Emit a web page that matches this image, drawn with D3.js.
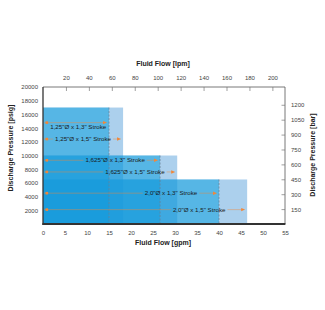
<!DOCTYPE html>
<html><head><meta charset="utf-8">
<script src="https://cdn.jsdelivr.net/npm/d3@7"></script>
<style>body{margin:0;background:#fff}svg{display:block;font-family:"Liberation Sans",Arial,sans-serif}</style>
</head><body><svg id="c" width="325" height="310"></svg>
<script>
// ---- data ----
const bores = ['1,25"Ø', '1,625"Ø', '2,0"Ø'];
const maxPressure = [17000, 10000, 6500];          // psig, top of each bore block
const flowStroke13 = [15, 26.6, 40];               // gpm, 1,3" stroke
const flowStroke15 = [18.2, 30.5, 46.4];           // gpm, 1,5" stroke
const linePressure13 = [14800, 9300, 4500];        // psig, arrow line level
const linePressure15 = [12400, 7600, 2100];
const strokes = ['1,3"', '1,5"'];
const gpmTicks = [0, 5, 10, 15, 20, 25, 30, 35, 40, 45, 50, 55];
const lpmTicks = [20, 40, 60, 80, 100, 120, 140, 160, 180, 200];
const psiTicks = [2000, 4000, 6000, 8000, 10000, 12000, 14000, 16000, 18000, 20000];
const barTicks = [150, 300, 450, 600, 750, 900, 1050, 1200];

// ---- layout ----
const L = 43, R = 285, T = 87, B = 224;
const labelCenterGpm = [[8.0, 9.1], [16.4, 20.9], [29.1, 35.5]];
const labelDy = [[4, 0], [0, 0], [0, 0]];

const svg = d3.select('#c');
const x = d3.scaleLinear().domain([0, 55]).range([L, R]);
const xTop = d3.scaleLinear().domain([0, 211]).range([L, R]);
const y = d3.scaleLinear().domain([0, 20000]).range([B, T]);
const yBar = d3.scaleLinear().domain([0, 20000 / 14.5038]).range([B, T]);
const fmt = d3.format('d');

// blocks
const blocks = bores.map((b, i) => ({b, p: maxPressure[i], f13: flowStroke13[i], f15: flowStroke15[i]}));
const gBlocks = svg.append('g');
blocks.forEach(d => {
  gBlocks.append('rect').attr('x', x(0)).attr('y', y(d.p)).attr('width', x(d.f15) - x(0)).attr('height', y(0) - y(d.p))
    .attr('fill', 'rgb(70,150,215)').attr('fill-opacity', 0.45);
  gBlocks.append('rect').attr('x', x(0)).attr('y', y(d.p)).attr('width', x(d.f13) - x(0)).attr('height', y(0) - y(d.p))
    .attr('fill', 'rgb(0,155,222)').attr('fill-opacity', 0.5);
});
// dashed lines at 1,3" stroke flow
blocks.forEach(d => {
  svg.append('line').attr('x1', x(d.f13)).attr('x2', x(d.f13)).attr('y1', y(d.p)).attr('y2', y(0))
    .attr('stroke', '#6d7f90').attr('stroke-width', 0.7).attr('stroke-dasharray', '2,1.5');
});

// arrows and labels
const orange = '#f0873a';
bores.forEach((b, i) => {
  const ends = [flowStroke13[i], flowStroke15[i]];
  const lev = [linePressure13[i], linePressure15[i]];
  [0, 1].forEach(k => {
    const yy = y(lev[k]);
    const xe = x(ends[k]) - 2;
    const xs = x(0) + 1;
    const txt = svg.append('text').attr('x', x(labelCenterGpm[i][k])).attr('y', yy + labelDy[i][k])
      .attr('dy', '0.35em').attr('text-anchor', 'middle').attr('font-size', 6.2).attr('fill', '#1a1a1a')
      .text(`${b} x ${strokes[k]} Stroke`);
    const w = txt.node().getComputedTextLength();
    const cx = x(labelCenterGpm[i][k]);
    const segs = labelDy[i][k] === 0 ? [[xs, cx - w / 2 - 2], [cx + w / 2 + 2, xe - 3]] : [[xs, xe - 3]];
    segs.forEach(s => {
      if (s[1] > s[0]) svg.insert('line', 'text').attr('x1', s[0]).attr('x2', s[1]).attr('y1', yy).attr('y2', yy)
        .attr('stroke', orange).attr('stroke-width', 0.8).attr('stroke-opacity', 0.55);
    });
    svg.append('rect').attr('x', xs + 1.5).attr('y', yy - 1.3).attr('width', 2.6).attr('height', 2.6).attr('fill', orange);
    svg.append('path').attr('d', `M${xe},${yy}L${xe - 4},${yy - 1.7}L${xe - 4},${yy + 1.7}Z`).attr('fill', orange);
  });
});

// frame
svg.append('line').attr('x1', L).attr('x2', R).attr('y1', T).attr('y2', T).attr('stroke', '#555').attr('stroke-width', 0.8);
svg.append('line').attr('x1', R).attr('x2', R).attr('y1', T).attr('y2', B).attr('stroke', '#555').attr('stroke-width', 0.8);
svg.append('line').attr('x1', L).attr('x2', L).attr('y1', T).attr('y2', B + 1).attr('stroke', '#333').attr('stroke-width', 1.3);
svg.append('line').attr('x1', L - 0.6).attr('x2', R + 0.4).attr('y1', B).attr('y2', B).attr('stroke', '#333').attr('stroke-width', 1.8);

const tickFont = g => g.selectAll('text').attr('font-size', 6).attr('fill', '#444').attr('font-family', '"Liberation Sans",Arial,sans-serif');
// bottom
const ax1 = svg.append('g').attr('transform', `translate(0,${B})`)
  .call(d3.axisBottom(x).tickValues(gpmTicks).tickFormat(fmt).tickSize(0).tickPadding(7));
ax1.select('.domain').remove(); tickFont(ax1);
// top
const ax2 = svg.append('g').attr('transform', `translate(0,${T})`)
  .call(d3.axisTop(xTop).tickValues(lpmTicks).tickFormat(fmt).tickSizeInner(-4).tickSizeOuter(0).tickPadding(7));
ax2.select('.domain').remove(); tickFont(ax2);
ax2.selectAll('line').attr('stroke', '#777').attr('stroke-width', 0.7);
// left
const ax3 = svg.append('g').attr('transform', `translate(${L},0)`)
  .call(d3.axisLeft(y).tickValues(psiTicks).tickFormat(fmt).tickSize(0).tickPadding(5));
ax3.select('.domain').remove(); tickFont(ax3);
// right
const ax4 = svg.append('g').attr('transform', `translate(${R},0)`)
  .call(d3.axisRight(yBar).tickValues(barTicks).tickFormat(fmt).tickSizeInner(-3.5).tickSizeOuter(0).tickPadding(6));
ax4.select('.domain').remove(); tickFont(ax4);
ax4.selectAll('line').attr('stroke', '#777').attr('stroke-width', 0.7);

// titles
const title = (t, tx, ty, rot) => svg.append('text').attr('transform', `translate(${tx},${ty}) rotate(${rot})`)
  .attr('text-anchor', 'middle').attr('dy', '0.35em').attr('font-size', 7).attr('font-weight', 'bold').attr('fill', '#222').text(t);
title('Fluid Flow [lpm]', 163, 64, 0);
title('Fluid Flow [gpm]', 163, 243, 0);
title('Discharge Pressure [psig]', 11, 148, -90);
title('Discharge Pressure [bar]', 313, 155, -90);
</script></body></html>
